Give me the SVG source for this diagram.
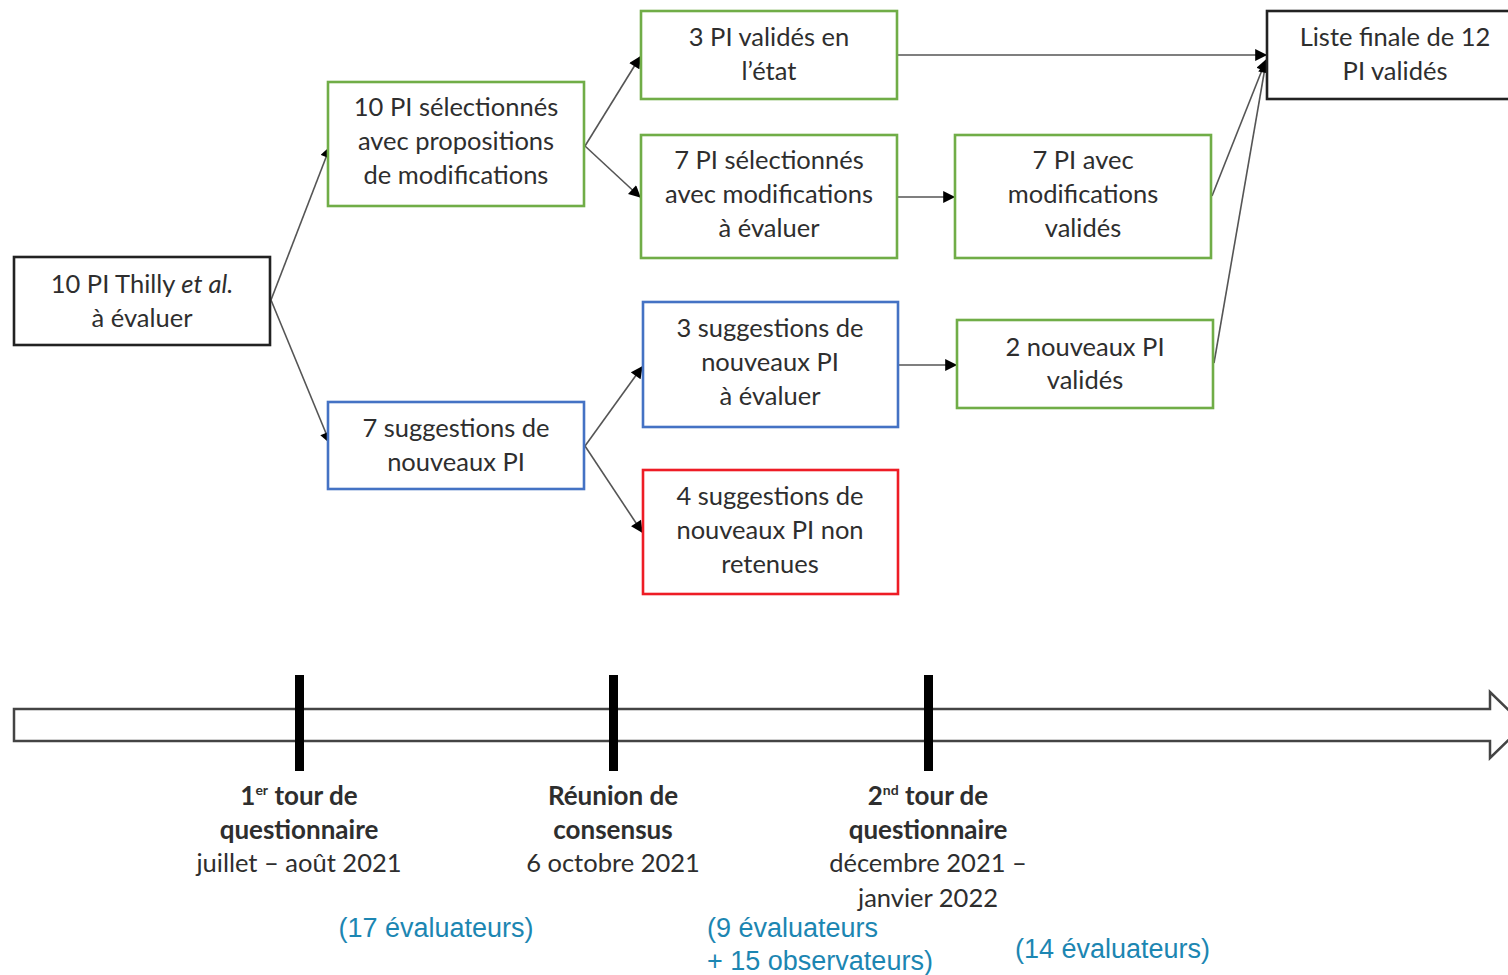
<svg xmlns="http://www.w3.org/2000/svg" width="1508" height="975" viewBox="0 0 1508 975">
<style>
.box{fill:#fff;stroke-width:2.6}
.k{stroke:#222}
.g{stroke:#70AD47}
.b{stroke:#4472C4}
.r{stroke:#EE1C25}
.t{font-family:Lato,"Open Sans",sans-serif;font-size:25.5px;fill:#2e2e2e;text-anchor:middle}
.tb{font-family:Lato,"Open Sans",sans-serif;font-size:26px;fill:#2e2e2e;text-anchor:middle;font-weight:bold}
.n{font-family:"Liberation Sans",Arial,sans-serif;font-size:27px;fill:#1C86B2}
.c{stroke:#555;stroke-width:1.6;fill:none;marker-end:url(#ah)}
</style>
<defs>
<marker id="ah" viewBox="0 0 10 10" refX="9" refY="5" markerWidth="13" markerHeight="12" markerUnits="userSpaceOnUse" orient="auto">
<path d="M0,0 L10,5 L0,10 z" fill="#000"/>
</marker>
</defs>
<rect width="1508" height="975" fill="#fff"/>
<g id="connectors">
<line class="c" x1="271" y1="300" x2="330" y2="147"/>
<line class="c" x1="271" y1="300" x2="330" y2="443"/>
<line class="c" x1="585" y1="146" x2="640" y2="57"/>
<line class="c" x1="585" y1="146" x2="640" y2="197"/>
<line class="c" x1="898" y1="197" x2="954" y2="197"/>
<line class="c" x1="585" y1="446" x2="642" y2="367"/>
<line class="c" x1="585" y1="446" x2="642" y2="532"/>
<line class="c" x1="899" y1="365" x2="956" y2="365"/>
<line class="c" x1="898" y1="55" x2="1266" y2="55"/>
<line class="c" x1="1212" y1="196" x2="1266" y2="60"/>
<line class="c" x1="1214" y1="363" x2="1266" y2="62"/>
</g>
<g id="nodeA">
<rect class="box k" x="14" y="257" width="256" height="88"/>
<text class="t" x="142" y="293">10 PI Thilly <tspan font-style="italic">et al.</tspan></text>
<text class="t" x="142" y="327">à évaluer</text>
</g>
<g id="nodeB">
<rect class="box g" x="328" y="82" width="256" height="124"/>
<text class="t" x="456" y="116">10 PI sélectionnés</text>
<text class="t" x="456" y="150">avec propositions</text>
<text class="t" x="456" y="184">de modifications</text>
</g>
<g id="nodeC">
<rect class="box b" x="328" y="402" width="256" height="87"/>
<text class="t" x="456" y="437">7 suggestions de</text>
<text class="t" x="456" y="471">nouveaux PI</text>
</g>
<g id="nodeD">
<rect class="box g" x="641" y="11" width="256" height="88"/>
<text class="t" x="769" y="46">3 PI validés en</text>
<text class="t" x="769" y="80">l’état</text>
</g>
<g id="nodeE">
<rect class="box g" x="641" y="135" width="256" height="123"/>
<text class="t" x="769" y="169">7 PI sélectionnés</text>
<text class="t" x="769" y="203">avec modifications</text>
<text class="t" x="769" y="237">à évaluer</text>
</g>
<g id="nodeF">
<rect class="box g" x="955" y="135" width="256" height="123"/>
<text class="t" x="1083" y="169">7 PI avec</text>
<text class="t" x="1083" y="203">modifications</text>
<text class="t" x="1083" y="237">validés</text>
</g>
<g id="nodeG">
<rect class="box b" x="643" y="302" width="255" height="125"/>
<text class="t" x="770" y="337">3 suggestions de</text>
<text class="t" x="770" y="371">nouveaux PI</text>
<text class="t" x="770" y="405">à évaluer</text>
</g>
<g id="nodeH">
<rect class="box g" x="957" y="320" width="256" height="88"/>
<text class="t" x="1085" y="356">2 nouveaux PI</text>
<text class="t" x="1085" y="389">validés</text>
</g>
<g id="nodeI">
<rect class="box r" x="643" y="470" width="255" height="124"/>
<text class="t" x="770" y="505">4 suggestions de</text>
<text class="t" x="770" y="539">nouveaux PI non</text>
<text class="t" x="770" y="573">retenues</text>
</g>
<g id="nodeJ">
<rect class="box k" x="1267" y="11" width="256" height="88"/>
<text class="t" x="1395" y="46">Liste finale de 12</text>
<text class="t" x="1395" y="80">PI validés</text>
</g>
<g id="timeline">
<path d="M14,709 L1490,709 L1490,692 L1524,725 L1490,758 L1490,741 L14,741 Z" fill="#fff" stroke="#444" stroke-width="2.5"/>
<rect x="295" y="675" width="9" height="96" fill="#000"/>
<rect x="609" y="675" width="9" height="96" fill="#000"/>
<rect x="924" y="675" width="9" height="96" fill="#000"/>
</g>
<g id="labels">
<text class="tb" x="299" y="805">1<tspan font-size="14" dy="-10">er</tspan><tspan dy="10"> tour de</tspan></text>
<text class="tb" x="299" y="839">questionnaire</text>
<text class="t" x="299" y="872">juillet – août 2021</text>
<text class="tb" x="613" y="805">Réunion de</text>
<text class="tb" x="613" y="839">consensus</text>
<text class="t" x="613" y="872">6 octobre 2021</text>
<text class="tb" x="928" y="805">2<tspan font-size="14" dy="-10">nd</tspan><tspan dy="10"> tour de</tspan></text>
<text class="tb" x="928" y="839">questionnaire</text>
<text class="t" x="928" y="872">décembre 2021 –</text>
<text class="t" x="928" y="907">janvier 2022</text>
<text class="n" x="436" y="937" text-anchor="middle">(17 évaluateurs)</text>
<text class="n" x="707" y="937">(9 évaluateurs</text>
<text class="n" x="707" y="970">+ 15 observateurs)</text>
<text class="n" x="1015" y="958">(14 évaluateurs)</text>
</g>
</svg>
